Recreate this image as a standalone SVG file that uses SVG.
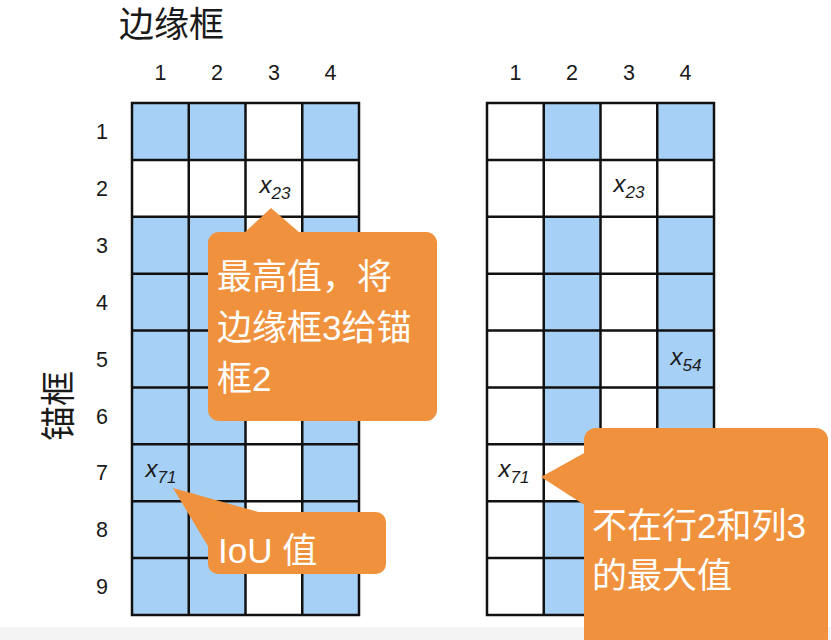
<svg xmlns="http://www.w3.org/2000/svg" width="831" height="640" viewBox="0 0 831 640">
<style>
.t{font-family:"Liberation Sans","Noto Sans CJK SC",sans-serif;fill:#1a1a1a}
.num{font-size:21.5px;text-anchor:middle}
.big{font-size:35px}
.w{fill:#ffffff}
.blue{fill:#a7d0f6}
.grid{fill:none;stroke:#111;stroke-width:2.5}
.call{fill:#f0923d}
.xl{font-size:24px;font-style:italic;text-anchor:middle}
.sub{font-size:17px}
</style>
<rect x="0" y="0" width="831" height="640" fill="#ffffff"/>
<rect x="0" y="627" width="831" height="13" fill="#f4f4f4"/>

<g id="title">
<text class="t big" x="119" y="37">边缘框</text>
<text class="t big" transform="translate(71,406) rotate(-90)" text-anchor="middle">锚框</text>
</g>

<g id="col-labels" class="t num">
<text x="160.4" y="80">1</text><text x="217.1" y="80">2</text><text x="273.9" y="80">3</text><text x="330.6" y="80">4</text>
<text x="515.4" y="80">1</text><text x="572.1" y="80">2</text><text x="628.9" y="80">3</text><text x="685.6" y="80">4</text>
</g>
<g id="row-labels" class="t num">
<text x="102" y="139">1</text><text x="102" y="196">2</text><text x="102" y="253">3</text><text x="102" y="310">4</text><text x="102" y="366.5">5</text><text x="102" y="423.5">6</text><text x="102" y="480">7</text><text x="102" y="537">8</text><text x="102" y="594">9</text>
</g>

<g id="grid-left">
<rect class="w" x="132" y="103" width="227" height="512"/>
<rect class="blue" x="132" y="103" width="113.5" height="56.9"/>
<rect class="blue" x="132" y="216.8" width="113.5" height="398.2"/>
<rect class="blue" x="302.25" y="103" width="56.75" height="56.9"/>
<rect class="blue" x="302.25" y="216.8" width="56.75" height="398.2"/>
<path class="grid" d="M132 103H359V615H132Z M188.75 103V615 M245.5 103V615 M302.25 103V615 M132 159.89H359 M132 216.78H359 M132 273.67H359 M132 330.56H359 M132 387.44H359 M132 444.33H359 M132 501.22H359 M132 558.11H359"/>
<text class="t xl" x="275" y="193">x<tspan class="sub" dy="6">23</tspan></text>
<text class="t xl" x="161" y="477">x<tspan class="sub" dy="6">71</tspan></text>
</g>

<g id="grid-right">
<rect class="w" x="487" y="103" width="227" height="512"/>
<rect class="blue" x="543.75" y="103" width="56.75" height="56.9"/>
<rect class="blue" x="543.75" y="216.8" width="56.75" height="227.5"/>
<rect class="blue" x="543.75" y="501.2" width="56.75" height="113.8"/>
<rect class="blue" x="657.25" y="103" width="56.75" height="56.9"/>
<rect class="blue" x="657.25" y="216.8" width="56.75" height="398.2"/>
<path class="grid" d="M487 103H714V615H487Z M543.75 103V615 M600.5 103V615 M657.25 103V615 M487 159.89H714 M487 216.78H714 M487 273.67H714 M487 330.56H714 M487 387.44H714 M487 444.33H714 M487 501.22H714 M487 558.11H714"/>
<text class="t xl" x="629" y="192">x<tspan class="sub" dy="6">23</tspan></text>
<text class="t xl" x="686" y="365">x<tspan class="sub" dy="6">54</tspan></text>
<text class="t xl" x="514" y="477">x<tspan class="sub" dy="6">71</tspan></text>
</g>

<g id="callout-max">
<polygon class="call" points="271,208 244,233 300,233"/>
<rect class="call" x="208" y="232" width="229" height="189" rx="11"/>
<text class="t big w" x="217" y="289">最高值，将</text>
<text class="t big w" x="217" y="340">边缘框3给锚</text>
<text class="t big w" x="217" y="391">框2</text>
</g>

<g id="callout-iou">
<polygon class="call" points="173,488 209,548 262,513"/>
<rect class="call" x="208" y="512" width="178" height="62" rx="10"/>
<text class="t big w" x="218" y="563">IoU 值</text>
</g>

<g id="callout-next">
<polygon class="call" points="541,477 586,452 586,506"/>
<rect class="call" x="584" y="428" width="244" height="230" rx="12"/>
<text class="t big w" x="592" y="538">不在行2和列3</text>
<text class="t big w" x="592" y="588">的最大值</text>
</g>
</svg>
